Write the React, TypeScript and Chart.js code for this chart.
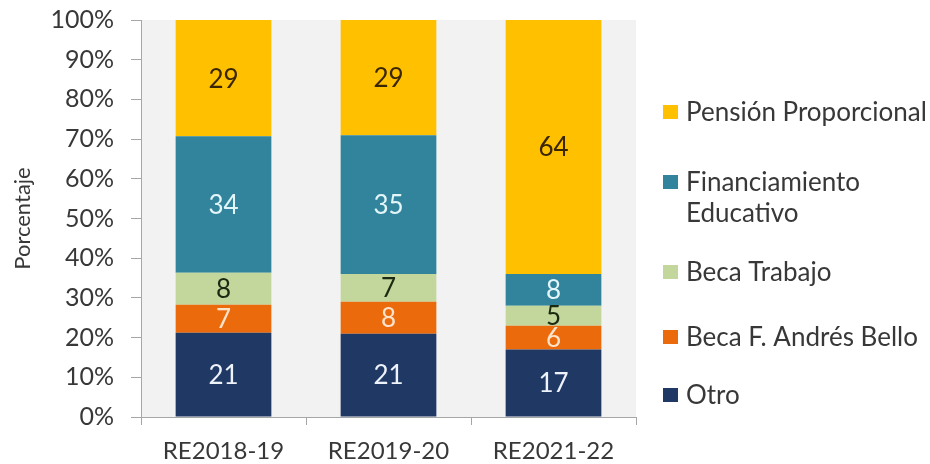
import React, { useEffect, useRef } from "react";
import { Chart, registerables } from "chart.js";

Chart.register(...registerables);

const categories = ["RE2018-19", "RE2019-20", "RE2021-22"];
const otro = [21, 21, 17];
const becaAndresBello = [7, 8, 6];
const becaTrabajo = [8, 7, 5];
const financiamientoEducativo = [34, 35, 8];
const pensionProporcional = [29, 29, 64];

const seriesNames = [
  "Otro",
  "Beca F. Andrés Bello",
  "Beca Trabajo",
  "Financiamiento Educativo",
  "Pensión Proporcional",
];
const legendLines = [
  ["Pensión Proporcional"],
  ["Financiamiento", "Educativo"],
  ["Beca Trabajo"],
  ["Beca F. Andrés Bello"],
  ["Otro"],
];

const FONT = "Lato, 'Open Sans', sans-serif";
const TEXT = "#383838";
const colors = ["#1F3864", "#EB6B0C", "#C3D69B", "#31849B", "#FFC000"];
const labelColors = ["#eef2fa", "#fde3cc", "#1c2a12", "#e3f5f9", "#3a2600"];

const rawSeries = [otro, becaAndresBello, becaTrabajo, financiamientoEducativo, pensionProporcional];

export default function App() {
  const ref = useRef<HTMLCanvasElement | null>(null);
  useEffect(() => {
    const canvas = ref.current;
    if (!canvas) return;
    const totals = categories.map((_, i) => rawSeries.reduce((s, arr) => s + arr[i], 0));

    const bgPlugin = {
      id: "bg",
      beforeDraw(chart: any) {
        const { ctx, chartArea } = chart;
        ctx.save();
        ctx.fillStyle = "#ffffff";
        ctx.fillRect(0, 0, chart.width, chart.height);
        ctx.fillStyle = "#f2f2f2";
        ctx.fillRect(chartArea.left, chartArea.top, chartArea.right - chartArea.left, chartArea.bottom - chartArea.top);
        ctx.restore();
      },
    };

    const labelPlugin = {
      id: "segLabels",
      afterDatasetsDraw(chart: any) {
        const { ctx } = chart;
        ctx.save();
        ctx.font = `26px ${FONT}`;
        ctx.textAlign = "center";
        ctx.textBaseline = "middle";
        chart.data.datasets.forEach((ds: any, di: number) => {
          const meta = chart.getDatasetMeta(di);
          meta.data.forEach((el: any, i: number) => {
            const y = (el.y + el.base) / 2;
            ctx.fillStyle = labelColors[di];
            ctx.fillText(String(rawSeries[di][i]), el.x, y + 1);
          });
        });
        ctx.restore();
      },
    };

    const legendPlugin = {
      id: "customLegend",
      afterDraw(chart: any) {
        const { ctx, chartArea } = chart;
        const x0 = chartArea.right + 27;
        const lineYs = [[112], [182, 213], [272], [337], [395]];
        ctx.save();
        ctx.font = `26px ${FONT}`;
        ctx.textBaseline = "middle";
        ctx.textAlign = "left";
        legendLines.forEach((lines, k) => {
          const di = rawSeries.length - 1 - k;
          const ys = lineYs[k];
          ctx.fillStyle = colors[di];
          ctx.fillRect(x0, ys[0] - 7, 15, 14);
          ctx.fillStyle = TEXT;
          lines.forEach((t, j) => ctx.fillText(t, x0 + 23, ys[j] + 1));
        });
        ctx.restore();
      },
    };

    const chart = new Chart(canvas, {
      type: "bar",
      data: {
        labels: categories,
        datasets: rawSeries.map((arr, di) => ({
          label: seriesNames[di],
          data: arr.map((v, i) => (v / totals[i]) * 100),
          backgroundColor: colors[di],
          borderWidth: 0,
          categoryPercentage: 1,
          barPercentage: 0.58,
        })),
      },
      options: {
        responsive: false,
        animation: false,
        devicePixelRatio: 1,
        layout: { padding: { top: 20, right: 294, left: 0, bottom: 0 } },
        plugins: {
          legend: { display: false },
          tooltip: { enabled: false },
          title: { display: false },
        },
        scales: {
          x: {
            stacked: true,
            grid: {
              offset: true,
              drawOnChartArea: false,
              tickLength: 8,
              color: "#a6a6a6",
            },
            border: { color: "#a6a6a6" },
            ticks: { color: TEXT, font: { family: FONT, size: 24 }, padding: 12 },
            afterFit(scale: any) {
              scale.height = 47;
              scale.paddingLeft = 0;
              scale.paddingRight = 0;
            },
          },
          y: {
            stacked: true,
            min: 0,
            max: 100,
            grid: {
              drawOnChartArea: false,
              tickLength: 10,
              color: "#a6a6a6",
            },
            border: { color: "#a6a6a6" },
            ticks: {
              stepSize: 10,
              color: TEXT,
              font: { family: FONT, size: 25 },
              padding: 17,
              callback: (v: any) => `${v}%`,
            },
            title: {
              display: true,
              text: "Porcentaje",
              color: TEXT,
              font: { family: FONT, size: 22 },
              padding: { top: 10, bottom: 0 },
            },
            afterFit(scale: any) {
              scale.width = 141;
              scale.paddingTop = 0;
              scale.paddingBottom = 0;
            },
          },
        },
      },
      plugins: [bgPlugin, labelPlugin, legendPlugin],
    });
    return () => chart.destroy();
  }, []);

  return (
    <div style={{ position: "absolute", left: 0, top: 0, width: 930, height: 464, background: "#fff" }}>
      <canvas ref={ref} width={930} height={464} style={{ display: "block", width: 930, height: 464 }} />
    </div>
  );
}
